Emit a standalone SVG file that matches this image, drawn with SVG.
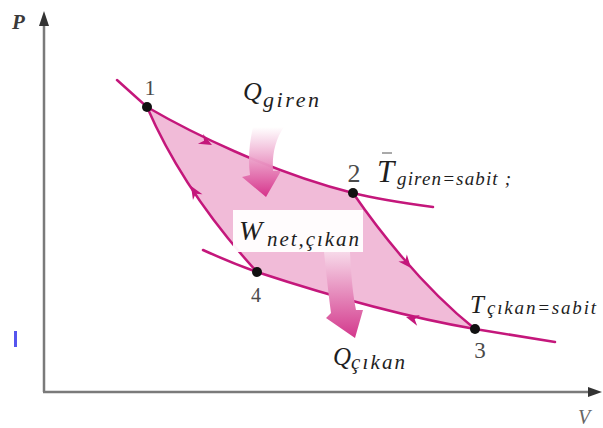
<svg xmlns="http://www.w3.org/2000/svg" width="603" height="428" viewBox="0 0 603 428">
<style>
.ax{stroke:#7a7a7a;stroke-width:2.5;fill:none}
.axh{fill:#333}
.cv{stroke:#c4177b;stroke-width:2.5;fill:none;stroke-linecap:round}
.ah{fill:#c4177b}
.dot{fill:#111}
.num{fill:#4a4a4a;text-anchor:middle}
.m{font-style:italic;fill:#1e1e1e}
</style>
<defs>
<path id="ahd" d="M0,0 L-13,-5.5 L-9,0 L-13,5.5 Z"/>
<linearGradient id="g1" x1="0" y1="0" x2="0" y2="1">
<stop offset="0" stop-color="#ffffff" stop-opacity="0.9"/>
<stop offset="1" stop-color="#d6338b"/>
</linearGradient>
<linearGradient id="g2" x1="0" y1="0" x2="0" y2="1">
<stop offset="0" stop-color="#f7d9e9"/>
<stop offset="1" stop-color="#d3388c"/>
</linearGradient>
</defs>

<g id="axes">
<line class="ax" x1="44" y1="22" x2="44" y2="392"/>
<line class="ax" x1="43" y1="392" x2="592" y2="392"/>
<path class="axh" d="M44,11 L49,26 L39,26 Z"/>
<path class="axh" d="M602,392 L588,387 L588,397 Z"/>
<text x="12" y="29" font-family="Liberation Serif, serif" font-style="italic" font-weight="bold" font-size="21" fill="#3a3a3a">P</text>
<text x="578" y="424" font-family="Liberation Serif, serif" font-style="italic" font-size="20" fill="#666">V</text>
<rect x="14" y="331" width="3" height="16" fill="#5555ee"/>
</g>

<g id="cycle-fill">
<path d="M147,107 C190,132 270,172 353,193 C375,225 420,285 475,329 C400,316 330,296 257,272 C205,215 170,160 147,107 Z" fill="#f1bbd8"/>
</g>

<g id="connectors">
<path class="cv" d="M117,80 L147,107 C190,132 270,172 353,193 C380,200 410,204 433,207"/>
<path class="cv" d="M203,250 C225,260 240,266 257,272 C330,296 400,316 475,329 C505,334 530,338 555,342"/>
<path class="cv" d="M147,107 C170,160 205,215 257,272"/>
<path class="cv" d="M353,193 C375,225 420,285 475,329"/>
<use href="#ahd" class="ah" transform="translate(212,145) rotate(28)"/>
<use href="#ahd" class="ah" transform="translate(191,186) rotate(-121)"/>
<use href="#ahd" class="ah" transform="translate(411,268) rotate(50)"/>
<use href="#ahd" class="ah" transform="translate(406,317) rotate(195)"/>
</g>

<g id="q-in">
<path d="M253,127 C249,145 248,160 250,175 L242,177 L266,197 L281,171 L273,171 C272,155 275,140 284,127 Z" fill="url(#g1)"/>
<text class="m" font-family="Liberation Serif, DejaVu Serif, serif" x="243" y="100" font-size="26">Q</text>
<text class="m" font-family="Liberation Serif, DejaVu Serif, serif" x="263" y="107" font-size="22" textLength="56" lengthAdjust="spacing">giren</text>
</g>

<g id="q-out">
<path d="M324,252 C326,270 328,290 331,313 L326,318 L355,338 L363,310 L356,310 C352,290 351,270 350,252 Z" fill="url(#g2)"/>
<text class="m" font-family="Liberation Serif, DejaVu Serif, serif" x="333" y="365" font-size="25">Q</text>
<text class="m" font-family="Liberation Serif, DejaVu Serif, serif" x="351" y="369" font-size="21" textLength="54" lengthAdjust="spacing">çıkan</text>
</g>

<g id="w-net">
<rect x="233" y="210" width="130" height="42" fill="#ffffff" fill-opacity="0.95"/>
<text class="m" font-family="Liberation Serif, DejaVu Serif, serif" x="239" y="240" font-size="28">W</text>
<text class="m" font-family="Liberation Serif, DejaVu Serif, serif" x="267" y="246" font-size="21" textLength="92" lengthAdjust="spacing">net,çıkan</text>
</g>

<g id="t-in">
<line x1="382" y1="153" x2="392" y2="153" stroke="#555" stroke-width="1"/>
<text class="m" font-family="Liberation Serif, DejaVu Serif, serif" x="377" y="182" font-size="31">T</text>
<text class="m" font-family="Liberation Serif, DejaVu Serif, serif" x="397" y="185" font-size="19" textLength="114" lengthAdjust="spacing">giren=sabit ;</text>
</g>

<g id="t-out">
<text class="m" font-family="Liberation Serif, DejaVu Serif, serif" x="470" y="313" font-size="25">T</text>
<text class="m" font-family="Liberation Serif, DejaVu Serif, serif" x="487" y="314" font-size="19" textLength="109" lengthAdjust="spacing">çıkan=sabit</text>
</g>

<g id="node-1"><circle class="dot" cx="147" cy="107" r="5"/><text class="num" font-family="Liberation Serif, serif" x="150" y="95" font-size="22">1</text></g>
<g id="node-2"><circle class="dot" cx="353" cy="193" r="5"/><text class="num" font-family="Liberation Serif, serif" x="354" y="182" font-size="26">2</text></g>
<g id="node-3"><circle class="dot" cx="475" cy="329" r="5"/><text class="num" font-family="Liberation Serif, serif" x="480" y="358" font-size="23">3</text></g>
<g id="node-4"><circle class="dot" cx="257" cy="272" r="5"/><text class="num" font-family="Liberation Serif, serif" x="256" y="302" font-size="20">4</text></g>
</svg>
